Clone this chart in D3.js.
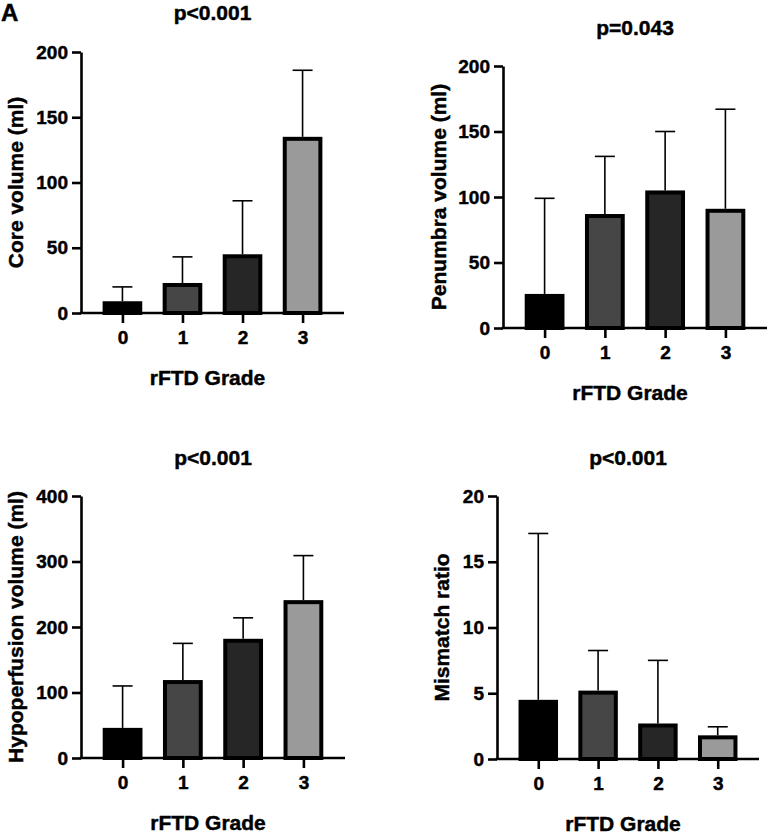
<!DOCTYPE html>
<html>
<head>
<meta charset="utf-8">
<script src="https://cdn.jsdelivr.net/npm/d3@7"></script>
<style>
  body { margin: 0; background: #fff; }
  svg { display: block; }
  text { font-family: "Liberation Sans", Arial, sans-serif; font-weight: bold; fill: #000; stroke: #000; stroke-width: 0.45px; }
</style>
</head>
<body>
<svg id="chart" width="772" height="836"></svg>
<script>
// ---- data ----
const grades = ["0", "1", "2", "3"];
const barColors = ["#000000", "#464646", "#262626", "#9a9a9a"];

const coreMean = [9, 23, 45, 135];
const coreSD = [11, 20, 41, 51];

const penumbraMean = [26, 87, 105, 91];
const penumbraSD = [73, 44, 45, 76];

const hypoMean = [46, 119, 182, 241];
const hypoSD = [64, 56, 32, 68];

const mismatchMean = [4.5, 5.2, 2.7, 1.8];
const mismatchSD = [12.65, 3.05, 4.8, 0.65];

const coreTicks = [0, 50, 100, 150, 200];
const penumbraTicks = [0, 50, 100, 150, 200];
const hypoTicks = [0, 100, 200, 300, 400];
const mismatchTicks = [0, 5, 10, 15, 20];

const titles = ["p<0.001", "p=0.043", "p<0.001", "p<0.001"];
const yLabels = ["Core volume (ml)", "Penumbra volume (ml)", "Hypoperfusion volume (ml)", "Mismatch ratio"];
const xLabel = "rFTD Grade";

// ---- layout ----
const panels = [
  { mean: coreMean, sd: coreSD, ticks: coreTicks, x0: 81, x1: 344, yTop: 52, yBot: 313, titleY: 19.5, ylabX: 23, title: titles[0], ylab: yLabels[0] },
  { mean: penumbraMean, sd: penumbraSD, ticks: penumbraTicks, x0: 503, x1: 767, yTop: 66, yBot: 328, titleY: 34.5, ylabX: 446, title: titles[1], ylab: yLabels[1] },
  { mean: hypoMean, sd: hypoSD, ticks: hypoTicks, x0: 81, x1: 345, yTop: 496, yBot: 758, titleY: 464.5, ylabX: 23, title: titles[2], ylab: yLabels[2] },
  { mean: mismatchMean, sd: mismatchSD, ticks: mismatchTicks, x0: 497, x1: 759, yTop: 496, yBot: 759, titleY: 464.5, ylabX: 449, title: titles[3], ylab: yLabels[3] }
];

const svg = d3.select("#chart");

panels.forEach(p => {
  const g = svg.append("g");
  const x = d3.scalePoint().domain(grades).range([p.x0, p.x1]).padding(0.69);
  const y = d3.scaleLinear().domain([0, d3.max(p.ticks)]).range([p.yBot, p.yTop]);
  const bw = x.step() * 0.66;

  // error bars (upper only)
  const eb = g.append("g");
  grades.forEach((c, i) => {
    const cx = x(c);
    const top = y(p.mean[i] + p.sd[i]);
    eb.append("line").attr("x1", cx).attr("x2", cx).attr("y1", y(p.mean[i])).attr("y2", top)
      .attr("stroke", "#000").attr("stroke-width", 1.6);
    eb.append("line").attr("x1", cx - 10).attr("x2", cx + 10).attr("y1", top).attr("y2", top)
      .attr("stroke", "#000").attr("stroke-width", 1.6);
  });

  // bars
  g.append("g").selectAll("rect").data(grades).join("rect")
    .attr("x", c => x(c) - bw / 2 + 2)
    .attr("width", bw - 4)
    .attr("y", (c, i) => y(p.mean[i]) + 2)
    .attr("height", (c, i) => Math.max(0, y(0) - y(p.mean[i]) - 2))
    .attr("fill", (c, i) => barColors[i])
    .attr("stroke", "#000")
    .attr("stroke-width", 4);

  // y axis
  const ya = g.append("g").attr("transform", `translate(${p.x0},0)`)
    .call(d3.axisLeft(y).tickValues(p.ticks).tickSize(9).tickPadding(4).tickSizeOuter(0));
  ya.select(".domain").attr("stroke-width", 2.6);
  ya.selectAll(".tick line").attr("stroke-width", 2.6);
  ya.selectAll("text").style("font-size", "19px");

  // x axis
  const xa = g.append("g").attr("transform", `translate(0,${p.yBot})`)
    .call(d3.axisBottom(x).tickSize(10).tickPadding(8).tickSizeOuter(0));
  xa.select(".domain").attr("stroke-width", 2.6).attr("d", `M${p.x0 - 1.3},0H${p.x1}`);
  xa.selectAll(".tick line").attr("stroke-width", 2.6);
  xa.selectAll("text").style("font-size", "19px");

  // titles
  g.append("text").attr("x", (p.x0 + p.x1) / 2).attr("y", p.titleY)
    .attr("text-anchor", "middle").style("font-size", "21px").text(p.title);
  g.append("text").attr("x", (p.x0 + p.x1) / 2 - 5).attr("y", p.yBot + 72)
    .attr("text-anchor", "middle").style("font-size", "21px").text(xLabel);
  g.append("text")
    .attr("transform", `translate(${p.ylabX},${(p.yTop + p.yBot) / 2}) rotate(-90)`)
    .attr("text-anchor", "middle").style("font-size", "21px").text(p.ylab);
});

// panel letter
svg.append("text").attr("x", 1).attr("y", 21).style("font-size", "24px").text("A");
</script>
</body>
</html>
